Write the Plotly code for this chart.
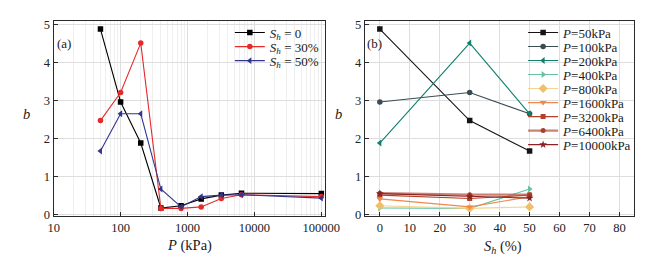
import plotly.graph_objects as go

# ---------------- data ----------------
p_values = [50, 100, 200, 400, 800, 1600, 3200, 6400, 10000]          # kPa (legend of panel b)
p_left_x = [50, 100, 200, 400, 800, 1600, 3200, 6400, 100000]         # x positions as drawn in panel a
sh_values = [0, 30, 50]                                                # S_h (%)
b_sh0 = [4.89, 2.97, 1.89, 0.18, 0.24, 0.42, 0.52, 0.57, 0.56]
b_sh30 = [2.48, 3.22, 4.52, 0.17, 0.17, 0.21, 0.43, 0.53, 0.48]
b_sh50 = [1.68, 2.66, 2.66, 0.68, 0.21, 0.48, 0.52, 0.53, 0.44]
sh_labels = ["0", "30%", "50%"]
x_left_ticks = [10, 100, 1000, 10000, 100000]
x_left_ticktext = ["10", "100", "1000", "10000", "100000"]
x_right_ticks = [0, 10, 20, 30, 40, 50, 60, 70, 80]
y_ticks = [0, 1, 2, 3, 4, 5]

# ---------------- style ----------------
W, H = 654, 262
FONT = "'Liberation Serif', 'Times New Roman', serif"
left_styles = [
    dict(color="#000000", symbol="square", size=5.5),
    dict(color="#e62a2a", symbol="circle", size=5.5),
    dict(color="#34348f", symbol="triangle-left", size=6),
]
right_styles = [
    dict(color="#141414", symbol="square", size=5.5, lw=1.1),
    dict(color="#3b4b53", symbol="circle", size=5.5, lw=1.1),
    dict(color="#10806e", symbol="triangle-left", size=6, lw=1.1),
    dict(color="#62c2a2", symbol="triangle-right", size=6, lw=1.1),
    dict(color="#f6d38e", symbol="diamond", size=7, lw=1.1, mcolor="#f0bf6a"),
    dict(color="#f0884a", symbol="triangle-down", size=6, lw=1.1),
    dict(color="#b4402c", symbol="square", size=5, lw=1.1),
    dict(color="rgba(185,85,70,0.75)", symbol="circle", size=5, lw=2.2, mcolor="#a8402e"),
    dict(color="#8c2222", symbol="star", size=6, lw=1.1),
]

def px_x(v):
    return v / W

def px_y(v):
    return 1 - v / H

fig = go.Figure()
left_series = [b_sh0, b_sh30, b_sh50]
for i, (ys, lab, st) in enumerate(zip(left_series, sh_labels, left_styles)):
    fig.add_trace(go.Scatter(
        x=p_left_x, y=ys, mode="lines+markers",
        name=f"<i>S</i><sub><i>h</i></sub> = {lab}",
        line=dict(color=st["color"], width=1.1),
        marker=dict(symbol=st["symbol"], size=st["size"], color=st["color"],
                    line=dict(width=0)),
        xaxis="x", yaxis="y",
        legend="legend" if i == 0 else f"legend{i+1}",
    ))

for i, (p, st) in enumerate(zip(p_values, right_styles)):
    ys = [b_sh0[i], b_sh30[i], b_sh50[i]]
    fig.add_trace(go.Scatter(
        x=sh_values, y=ys, mode="lines+markers",
        name=f"<i>P</i>={p}kPa",
        line=dict(color=st["color"], width=st["lw"]),
        marker=dict(symbol=st["symbol"], size=st["size"],
                    color=st.get("mcolor", st["color"]), line=dict(width=0)),
        xaxis="x2", yaxis="y2",
        legend=f"legend{i+4}",
    ))

axis_common = dict(
    showline=True, linecolor="#2a2a2a", linewidth=1.3, mirror=True,
    ticks="inside", ticklen=4, tickcolor="#2a2a2a", tickwidth=1,
    showgrid=True, gridcolor="#dedede", gridwidth=1, zeroline=False,
    tickfont=dict(family=FONT, size=12.5, color="#222222"),
)

minor_vals = [m * 10 ** e for e in range(1, 5) for m in range(2, 10)] + [200000]

layout = dict(
    width=W, height=H, margin=dict(l=0, r=0, t=0, b=0),
    paper_bgcolor="white", plot_bgcolor="white",
    showlegend=True,
    xaxis=dict(type="log", range=[1, 5.05], domain=[px_x(41), px_x(321)],
               tickvals=x_left_ticks, ticktext=x_left_ticktext, anchor="y",
               minor=dict(tickvals=minor_vals, showgrid=True, gridcolor="#efefef",
                          ticks=""),
               **axis_common),
    yaxis=dict(range=[-0.03, 5.11], domain=[px_y(212.5), px_y(11)],
               tickvals=y_ticks, anchor="x", **axis_common),
    xaxis2=dict(range=[-5, 85], domain=[px_x(362.5), px_x(641)],
                tickvals=x_right_ticks, anchor="y2", **axis_common),
    yaxis2=dict(range=[-0.03, 5.11], domain=[px_y(212.5), px_y(11)],
                tickvals=y_ticks, anchor="x2", **axis_common),
)

leg_font = dict(family=FONT, size=13, color="#1a1a1a")
def legend_at(xpx, ypx):
    return dict(x=px_x(xpx), y=px_y(ypx), xanchor="left", yanchor="middle",
                bgcolor="rgba(0,0,0,0)", borderwidth=0, font=leg_font,
                itemwidth=30, tracegroupgap=0)

for i in range(3):
    key = "legend" if i == 0 else f"legend{i+1}"
    layout[key] = legend_at(223, 23.3 + 14.5 * i)
for i in range(9):
    layout[f"legend{i+4}"] = legend_at(526, 23.3 + 14.45 * i)

fig.update_layout(**layout)

ann_font = dict(family=FONT, size=14.5, color="#1a1a1a")
annotations = [
    dict(text="<i>P</i> (kPa)", x=px_x(181), y=px_y(243)),
    dict(text="<i>S</i><sub><i>h</i></sub> (%)", x=px_x(505), y=px_y(244)),
    dict(text="<i>b</i>", x=px_x(12.5), y=px_y(107)),
    dict(text="<i>b</i>", x=px_x(335.5), y=px_y(107)),
]
for a in annotations:
    fig.add_annotation(xref="paper", yref="paper", showarrow=False,
                       xanchor="center", yanchor="middle", font=ann_font, **a)
for txt, xx in [("(a)", 52), ("(b)", 372.5)]:
    fig.add_annotation(xref="paper", yref="paper", showarrow=False, text=txt,
                       x=px_x(xx), y=px_y(35), xanchor="center", yanchor="middle",
                       font=dict(family=FONT, size=13, color="#1a1a1a"))

fig.write_html("out.html")
